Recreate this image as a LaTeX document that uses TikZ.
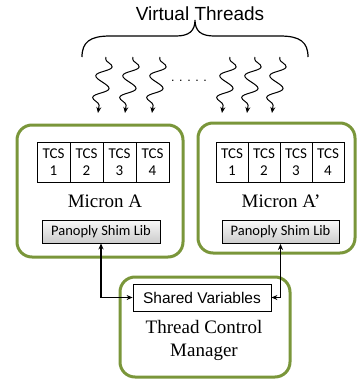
\documentclass[tikz,border=0pt]{standalone}
\usepackage{fontspec}
\setmainfont{Liberation Serif}
\setsansfont{Liberation Sans}
\newfontfamily\calibri{Carlito}
\usetikzlibrary{positioning, arrows.meta, decorations.pathmorphing}
\definecolor{olivegreen}{RGB}{122,150,58}

\begin{document}
\begin{tikzpicture}[
    x=1pt, y=-1pt,
    micron/.style={rectangle, draw=olivegreen, line width=3pt, rounded corners=15pt},
    tcs/.style={rectangle, draw, line width=0.8pt, minimum height=40pt, inner sep=0pt, align=center, font=\calibri\fontsize{15}{17}\selectfont},
    shim/.style={rectangle, draw, line width=0.8pt, top color=gray!6, bottom color=gray!40, inner sep=0pt, minimum height=23pt, font=\calibri\fontsize{14.5}{16}\selectfont},
    title/.style={font=\fontsize{19}{23}\selectfont, align=center},
    conn/.style={{Stealth[length=6pt,width=5pt]}-{Stealth[length=6pt,width=5pt]}, line width=1.2pt},
    thread/.style={-{Stealth[length=6pt,width=5pt]}, line width=1pt, decorate, decoration={snake, amplitude=7.5pt, segment length=22pt, pre length=2pt, post length=7pt}}
]
\useasboundingbox (0,0) rectangle (358,384);

\node[font=\sffamily\fontsize{19}{22}\selectfont] (vt) at (200,14) {Virtual Threads};
\draw[line width=1.2pt] (82,57) .. controls (82,42) and (90,36) .. (110,36) -- (176,36) .. controls (189,36) and (195,31) .. (195,20)
    .. controls (195,31) and (201,36) .. (214,36) -- (280,36) .. controls (300,36) and (308,42) .. (308,57);

% threads
\foreach \x [count=\i] in {98,125,152,222,247,272} {
    \coordinate (t\i) at (\x+8,57);
    \coordinate (h\i) at (\x,113);
    \draw[thread] (t\i) -- (h\i);
}
\node[font=\sffamily\fontsize{12.5}{14}\selectfont] (dots) at (189,81) {. . . . .};

% micron boxes
\node[micron, minimum width=166pt, minimum height=132pt] (micA) at (100,191) {};
\node[micron, minimum width=157pt, minimum height=130pt] (micB) at (276.5,188) {};
\node[micron, minimum width=170pt, minimum height=100pt] (mgr) at (205,327) {};

\foreach \i in {1,...,4} {
    \node[tcs, minimum width=33pt] (ta\i) at ({37+33*(\i-0.5)},162) {TCS\\\i};
    \node[tcs, minimum width=32pt] (tb\i) at ({216+32*(\i-0.5)},162) {TCS\\\i};
}

\node[title] (nameA) at (105,201) {Micron A};
\node[title] (nameB) at (281,201) {Micron A’};

\node[shim, minimum width=118pt] (shimA) at (101,231.5) {Panoply Shim Lib};
\node[shim, minimum width=117pt] (shimB) at (280.5,232) {Panoply Shim Lib};

\node[rectangle, draw, line width=0.8pt, inner sep=0pt, minimum width=138pt, minimum height=27pt, font=\sffamily\fontsize{15.5}{18}\selectfont] (shared) at (202,297.5) {Shared Variables};
\node[title] (mgrname) at (204,340) {Thread Control\\Manager};

\draw[conn] (shimA.south) |- (shared.west);
\draw[conn] (shimB.south) |- (shared.east);

\end{tikzpicture}
\end{document}
